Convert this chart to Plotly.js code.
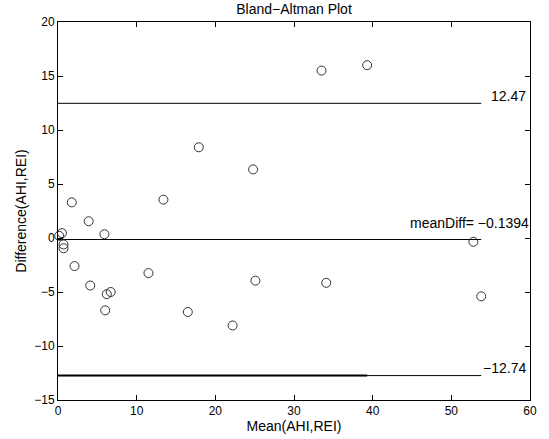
<!DOCTYPE html>
<html>
<head>
<meta charset="utf-8">
<script src="https://cdn.plot.ly/plotly-3.0.1.min.js"></script>
<style>html,body{margin:0;padding:0;background:#fff;}#chart{width:549px;height:439px;}</style>
</head>
<body>
<div id="chart"></div>
<script>
const meanVals = [33.5, 39.3, 1.75, 13.4, 3.9, 5.9, 0.5, 0.15, 0.7, 0.7, 2.1, 4.1, 6.7, 6.2, 6.0, 11.5, 16.5, 22.2, 24.8, 25.1, 34.1, 52.8, 53.8, 17.9];
const diffVals = [15.5, 16.0, 3.3, 3.55, 1.55, 0.35, 0.45, 0.2, -0.6, -0.95, -2.6, -4.4, -5.0, -5.2, -6.7, -3.25, -6.85, -8.1, 6.35, -3.95, -4.15, -0.35, -5.4, 8.4];
const meanDiff = -0.1394;
const upperLoA = 12.47;
const lowerLoA = -12.74;
const xTicks = [0, 10, 20, 30, 40, 50, 60];
const yTicks = [-15, -10, -5, 0, 5, 10, 15, 20];
const lowerOverlayEnd = 39.3; // the lower line is drawn twice up to here in the reference

const xStart = 0;
const xEnd = Math.max(...meanVals);
const font = 'Liberation Sans, Arial, Helvetica, sans-serif';

function hline(y, x1, w) {
  return {x: [xStart, x1], y: [y, y], mode: 'lines', type: 'scatter',
          line: {color: '#000', width: w}, hoverinfo: 'skip', showlegend: false};
}

const traces = [
  hline(upperLoA, xEnd, 1),
  hline(meanDiff, xEnd, 1),
  hline(lowerLoA, xEnd, 1),
  hline(lowerLoA, lowerOverlayEnd, 2),
  {x: meanVals, y: diffVals, mode: 'markers', type: 'scatter', cliponaxis: false,
   marker: {symbol: 'circle-open', size: 9, color: '#333', line: {width: 1, color: '#333'}},
   showlegend: false}
];

const fmt = v => String(v).replace('-', '\u2212');

const layout = {
  width: 549, height: 439,
  margin: {l: 58, r: 19, t: 22, b: 39, pad: 0},
  paper_bgcolor: '#fff', plot_bgcolor: '#fff',
  font: {family: font, size: 12, color: '#000'},
  title: {text: 'Bland\u2212Altman Plot', font: {family: font, size: 14, color: '#000'},
          x: 0.5, xref: 'paper', y: 1 - 9 / 439, yref: 'container', yanchor: 'middle'},
  xaxis: {range: [0, 60], tickvals: xTicks, ticktext: xTicks.map(fmt),
          ticks: 'inside', ticklen: 5, tickcolor: '#000', showgrid: false, zeroline: false,
          showline: true, linecolor: '#000', linewidth: 1, mirror: 'ticks',
          tickfont: {family: font, size: 12, color: '#000'},
          title: {text: 'Mean(AHI,REI)', font: {family: font, size: 14, color: '#000'}, standoff: 1}},
  yaxis: {range: [-15, 20], tickvals: yTicks, ticktext: yTicks.map(fmt),
          ticks: 'inside', ticklen: 5, tickcolor: '#000', showgrid: false, zeroline: false,
          showline: true, linecolor: '#000', linewidth: 1, mirror: 'ticks',
          tickfont: {family: font, size: 12, color: '#000'},
          title: {text: 'Difference(AHI,REI)', font: {family: font, size: 14, color: '#000'}, standoff: 4}},
  annotations: [
    {xref: 'paper', x: 1, xanchor: 'right', xshift: -2, yref: 'y', y: upperLoA, yanchor: 'bottom', yshift: -3,
     text: String(upperLoA), showarrow: false, font: {family: font, size: 14, color: '#000'}},
    {xref: 'paper', x: 1, xanchor: 'right', xshift: 1, yref: 'y', y: meanDiff, yanchor: 'bottom', yshift: 7,
     text: 'meanDiff= ' + fmt(meanDiff), showarrow: false, font: {family: font, size: 14, color: '#000'}},
    {xref: 'paper', x: 1, xanchor: 'right', xshift: -2, yref: 'y', y: lowerLoA, yanchor: 'bottom', yshift: -2,
     text: fmt(lowerLoA), showarrow: false, font: {family: font, size: 14, color: '#000'}}
  ]
};

Plotly.newPlot('chart', traces, layout, {displayModeBar: false, staticPlot: true});
</script>
</body>
</html>
